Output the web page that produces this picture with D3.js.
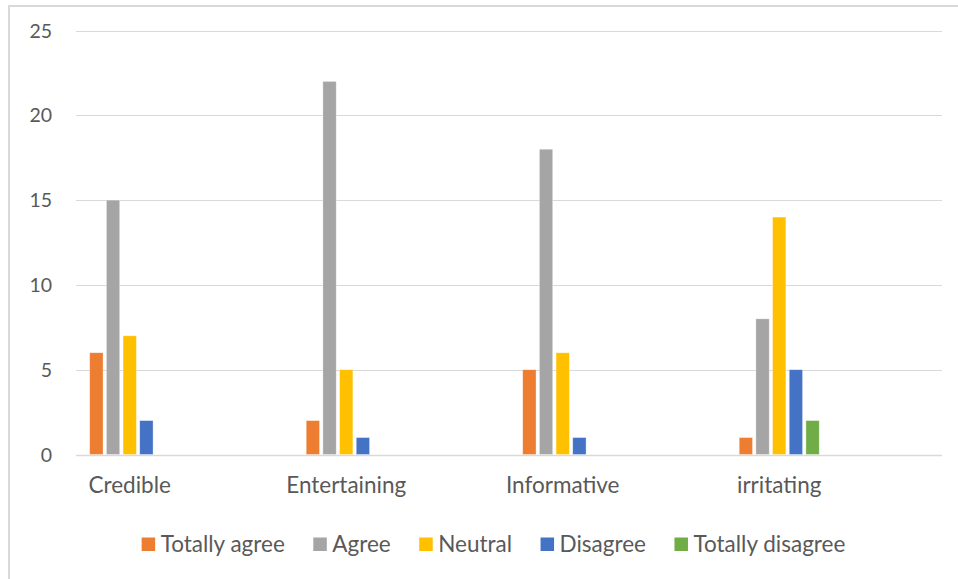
<!DOCTYPE html>
<html>
<head>
<meta charset="utf-8">
<script src="https://cdn.jsdelivr.net/npm/d3@7"></script>
<style>
  html, body { margin: 0; padding: 0; background: #fff; }
  svg { display: block; }
  text { font-family: Lato, "Open Sans", sans-serif; fill: #595959; }
</style>
</head>
<body>
<div id="chart"></div>
<script>
(function () {
    'use strict';

    const categories = ["Credible", "Entertaining", "Informative", "irritating"];
    const seriesNames = ["Totally agree", "Agree", "Neutral", "Disagree", "Totally disagree"];
    const seriesColors = ["#ED7D31", "#A5A5A5", "#FFC000", "#4472C4", "#70AD47"];
    const totallyAgree = [6, 2, 5, 1];
    const agree = [15, 22, 18, 8];
    const neutral = [7, 5, 6, 14];
    const disagree = [2, 1, 1, 5];
    const totallyDisagree = [0, 0, 0, 2];
    const yTicks = [0, 5, 10, 15, 20, 25];

    const seriesValues = [totallyAgree, agree, neutral, disagree, totallyDisagree];

    const width = 958;
    const height = 579;
    const plotLeft = 76, plotRight = 942, plotTop = 30.5, plotBottom = 454.5;

    const svg = d3.select("#chart").append("svg")
        .attr("width", width)
        .attr("height", height);

    // chart area border (only left + top visible in the crop)
    svg.append("path")
        .attr("d", `M9,${height} V6 H${width}`)
        .attr("fill", "none")
        .attr("stroke", "#D9D9D9")
        .attr("stroke-width", 2);

    const x0 = d3.scaleBand()
        .domain(categories)
        .range([plotLeft, plotRight]);

    // group sits at the left part of each band, like the original
    const bw = x0.bandwidth();
    const x1 = d3.scaleBand()
        .domain(seriesNames)
        .range([bw * 0.0633, bw * 0.433])
        .paddingInner(0.2)
        .paddingOuter(0);

    const y = d3.scaleLinear()
        .domain([0, 25])
        .range([plotBottom, plotTop]);

    // gridlines
    svg.append("g")
        .selectAll("line")
        .data(yTicks)
        .enter()
        .append("line")
        .attr("x1", plotLeft)
        .attr("x2", plotRight)
        .attr("y1", d => Math.round(y(d)) + 0.5)
        .attr("y2", d => Math.round(y(d)) + 0.5)
        .attr("stroke", "#D9D9D9")
        .attr("stroke-width", d => d === 0 ? 1.5 : 1.2);

    // y labels
    svg.append("g")
        .selectAll("text")
        .data(yTicks)
        .enter()
        .append("text")
        .attr("x", 52)
        .attr("y", d => y(d))
        .attr("dy", "0.36em")
        .attr("text-anchor", "end")
        .style("font-size", "19.5px")
        .text(d => d);

    // bars
    const groups = svg.append("g")
        .selectAll("g")
        .data(categories)
        .enter()
        .append("g")
        .attr("transform", d => `translate(${x0(d)},0)`);

    groups.selectAll("rect")
        .data((c, i) => seriesNames.map((s, k) => ({ s: s, v: seriesValues[k][i], color: seriesColors[k] })))
        .enter()
        .append("rect")
        .attr("x", d => x1(d.s))
        .attr("width", x1.bandwidth())
        .attr("y", d => y(d.v))
        .attr("height", d => y(0) - y(d.v))
        .attr("fill", d => d.color)
        .attr("stroke", "#fff")
        .attr("stroke-opacity", 0.5)
        .attr("stroke-width", 0.7);

    // category labels, centred on the bar group
    const groupMid = (x1(seriesNames[0]) + x1(seriesNames[seriesNames.length - 1]) + x1.bandwidth()) / 2;
    svg.append("g")
        .selectAll("text")
        .data(categories)
        .enter()
        .append("text")
        .attr("x", d => x0(d) + groupMid)
        .attr("y", 493)
        .attr("text-anchor", "middle")
        .style("font-size", "22.5px")
        .text(d => d);

    // legend
    const legend = svg.append("g");
    const sw = 13.5, swGap = 5.5, itemGap = 28.5;
    const items = legend.selectAll("g")
        .data(seriesNames)
        .enter()
        .append("g");
    items.append("rect")
        .attr("width", sw)
        .attr("height", sw)
        .attr("y", 537.5)
        .attr("fill", (d, i) => seriesColors[i]);
    items.append("text")
        .attr("x", sw + swGap)
        .attr("y", 551.5)
        .style("font-size", "22.5px")
        .text(d => d);

    let xpos = 0;
    const offsets = [];
    items.each(function () {
        const w = d3.select(this).select("text").node().getComputedTextLength();
        offsets.push(xpos);
        xpos += sw + swGap + w + itemGap;
    });
    const total = xpos - itemGap;
    const legendStart = 493.5 - total / 2;
    items.attr("transform", (d, i) => `translate(${legendStart + offsets[i]},0)`);
})();
</script>
</body>
</html>
